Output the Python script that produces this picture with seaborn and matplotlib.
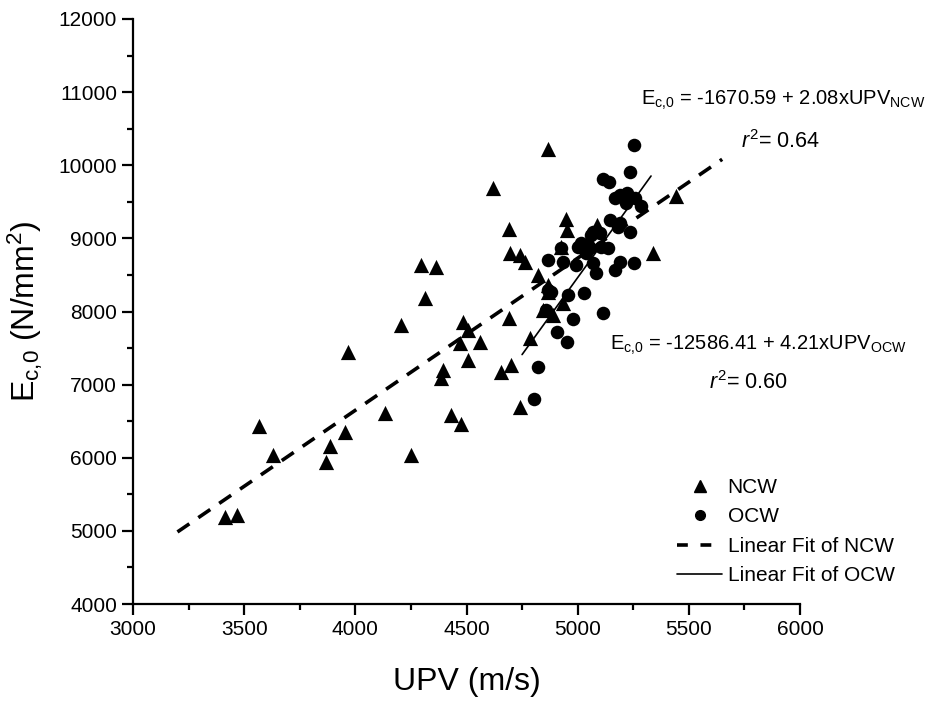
import numpy as np
import pandas as pd
import matplotlib
matplotlib.use('Agg')
import matplotlib.pyplot as plt
from matplotlib.lines import Line2D
import seaborn as sns

# NCW (triangles)
ncw_upv = [4297, 4362, 4312, 4207, 3969, 4395, 4384, 4133, 3568, 3953, 3628, 3887,
           3870, 4249, 3413, 3469, 4867, 4620, 5443, 4948, 4689, 5088, 4954, 4694,
           4739, 4762, 5339, 4926, 4822, 4867, 4867, 4934, 4844, 4889, 4689, 4485,
           4507, 4560, 4470, 4507, 4784, 4702, 4657, 4432, 4477, 4739]
ncw_e = [8637, 8614, 8182, 7817, 7452, 7201, 7088, 6609, 6435, 6357, 6038, 6161,
         5947, 6038, 5194, 5217, 10220, 9687, 9582, 9267, 9130, 9185, 9116, 8798,
         8774, 8683, 8798, 8888, 8500, 8364, 8272, 8114, 8022, 7953, 7908, 7862,
         7748, 7588, 7574, 7338, 7635, 7270, 7178, 6585, 6462, 6699]

# OCW (circles)
ocw_upv = [5254, 5236, 5114, 5139, 5166, 5189, 5223, 5256, 5218, 5286, 5144, 5189,
           5234, 5069, 5099, 5180, 5016, 5046, 5001, 5106, 5136, 4926, 5054, 5039,
           4867, 4934, 4993, 5069, 5083, 5166, 5189, 5254, 4867, 4956, 5028, 5113,
           4859, 4979, 4907, 4952, 4822, 4802, 5061, 4881]
ocw_e = [10279, 9905, 9810, 9777, 9550, 9595, 9619, 9550, 9482, 9437, 9254, 9208,
         9093, 9093, 9071, 9162, 8933, 8910, 8888, 8888, 8865, 8865, 8865, 8798,
         8706, 8683, 8637, 8660, 8524, 8569, 8683, 8660, 8296, 8227, 8250, 7985,
         8022, 7894, 7715, 7588, 7246, 6799, 9048, 8272]

# fitted lines as printed on the chart
ncw_fit = (-1670.59, 2.08)
ocw_fit = (-12586.41, 4.21)
ncw_fit_range = [3200, 5650]
ocw_fit_range = [4750, 5330]

sns.set_style('ticks')
plt.rcParams['font.family'] = ['Liberation Sans', 'DejaVu Sans']
plt.rcParams['mathtext.fontset'] = 'custom'
plt.rcParams['mathtext.rm'] = 'Liberation Sans'
plt.rcParams['mathtext.it'] = 'Liberation Sans:italic'
for k in ['text.color', 'axes.labelcolor', 'xtick.color', 'ytick.color', 'axes.edgecolor']:
    plt.rcParams[k] = 'black'

df = pd.DataFrame({
    'UPV': ncw_upv + ocw_upv,
    'E': ncw_e + ocw_e,
    'group': ['NCW'] * len(ncw_upv) + ['OCW'] * len(ocw_upv),
})

fig = plt.figure(figsize=(9.26, 7.01), dpi=100)
ax = fig.add_axes([133 / 926, 97 / 701, 667 / 926, 585 / 701])

sns.scatterplot(data=df[df.group == 'NCW'], x='UPV', y='E', marker='^', color='black',
                s=120, linewidth=0, ax=ax, legend=False)
sns.scatterplot(data=df[df.group == 'OCW'], x='UPV', y='E', marker='o', color='black',
                s=95, linewidth=0, ax=ax, legend=False)

xs = np.array(ncw_fit_range)
ax.plot(xs, ncw_fit[0] + ncw_fit[1] * xs, color='black', lw=2.6, dashes=(4, 3))
xs = np.array(ocw_fit_range)
ax.plot(xs, ocw_fit[0] + ocw_fit[1] * xs, color='black', lw=1.2)

ax.set_xlim(3000, 6000)
ax.set_ylim(4000, 12000)
ax.set_xticks(np.arange(3000, 6001, 500))
ax.set_xticks(np.arange(3250, 6000, 500), minor=True)
ax.set_yticks(np.arange(4000, 12001, 1000))
ax.set_yticks(np.arange(4500, 12000, 1000), minor=True)
ax.tick_params(which='major', length=8, width=1.6, labelsize=15, direction='out')
ax.tick_params(which='minor', length=4, width=1.6, direction='out')
for s in ['top', 'right']:
    ax.spines[s].set_visible(False)
for s in ['left', 'bottom']:
    ax.spines[s].set_linewidth(1.6)

ax.set_xlabel('UPV (m/s)', fontsize=23, labelpad=20)
ax.set_ylabel(r'E$_{\mathregular{c{,}0}}$ (N/mm$^{\mathregular{2}}$)', fontsize=23, labelpad=10)

eq_size = 14.5
fig.text(783 / 926, 1 - 100 / 701, r'E$_{\mathregular{c{,}0}}$ = -1670.59 + 2.08xUPV$_{\mathregular{NCW}}$',
         ha='center', va='center', fontsize=eq_size)
fig.text(781 / 926, 1 - 142 / 701, r'$\mathit{r}^{\mathregular{2}}$= 0.64',
         ha='center', va='center', fontsize=eq_size + 1)
fig.text(758 / 926, 1 - 345 / 701, r'E$_{\mathregular{c{,}0}}$ = -12586.41 + 4.21xUPV$_{\mathregular{OCW}}$',
         ha='center', va='center', fontsize=eq_size)
fig.text(748 / 926, 1 - 383 / 701, r'$\mathit{r}^{\mathregular{2}}$= 0.60',
         ha='center', va='center', fontsize=eq_size + 1)

handles = [
    Line2D([], [], marker='^', color='black', ls='none', markersize=9),
    Line2D([], [], marker='o', color='black', ls='none', markersize=7),
    Line2D([], [], color='black', lw=2.6, dashes=(3, 3.5)),
    Line2D([], [], color='black', lw=1.2),
]
labels = ['NCW', 'OCW', 'Linear Fit of NCW', 'Linear Fit of OCW']
ax.legend(handles, labels, loc='lower right', bbox_to_anchor=(1.17, 0.0), frameon=False,
          fontsize=15, handlelength=2.2, handletextpad=0.25, labelspacing=0.5)

fig.savefig('out.png', dpi=100)
